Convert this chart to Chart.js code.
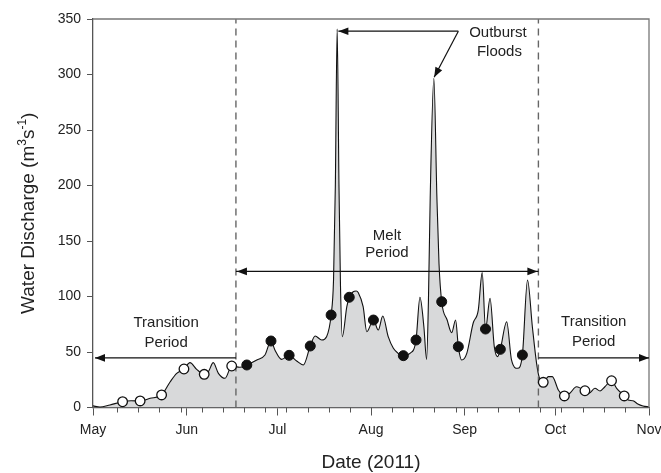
<!DOCTYPE html>
<html><head><meta charset="utf-8">
<script src="https://cdn.jsdelivr.net/npm/chart.js@4/dist/chart.umd.min.js"></script>
<style>html,body{margin:0;padding:0;background:#fff;}canvas{display:block;}</style>
</head><body>
<canvas id="c" width="661" height="473"></canvas>
<script>
// ---- data (days after 1 May 2011) ----
const monthDays = [0, 31, 61, 92, 123, 153, 184];
const monthLabels = ['May', 'Jun', 'Jul', 'Aug', 'Sep', 'Oct', 'Nov'];
const minorTickDays = [8,15,22,29,36,43,50,57,64,71,78,85,92,99,106,113,120,127,134,141,148,155,162,169,176];
const yTicks = [0, 50, 100, 150, 200, 250, 300, 350];

const flowDays = [0,2.3,5.6,9.8,12.6,15.6,18.9,22.7,25.5,27.7,30.1,32.1,34.3,36.8,38.2,39.8,41.5,43.7,45.9,48.6,50.9,54.2,56.9,58.9,60.2,62.4,64.9,67.4,69.6,71.9,73.5,75.7,77.3,78.8,79.6,80.2,80.8,81.4,81.9,82.5,84,84.8,86.1,87.1,87.8,89.4,90.6,92.8,94.4,95.9,97.7,99.4,101,102.7,104.9,106.9,108.2,109.5,110.4,111,111.6,112.8,113.8,114.5,115.4,117.2,118.7,120,120.9,122,123.7,125.8,127.5,128.8,129.9,131.4,132.8,133.9,134.8,136.9,138.5,140.5,142.1,143.8,145.4,146.8,147.6,149,150.7,152,154,156,157.8,160,161.4,162.8,164.1,166.1,167.8,169.4,171.6,173.3,175.8,177.1,178.7,180.3,182,184];
const flowValues = [1.5,0.3,2.3,5.2,6.1,5.9,8.3,11.3,23,30.8,34.7,40.4,34.4,29.9,32.3,40.4,30.8,26.3,37.4,36.2,38.3,42.8,47.3,59.9,51.8,43.4,47,41.9,38.3,55.4,64.4,60.8,63.8,83.3,115,200,341,200,110,63.8,90.8,99.3,104.3,105,103.4,90.8,68.3,78.8,69.8,82.4,63.8,53.3,48.8,46.7,48.8,60.8,99.3,72.8,43.4,95,190,296.6,190,130,95.3,78.8,67.4,78.8,54.8,42.8,48.8,75.9,87.8,121.5,70.7,98.4,54.8,45.8,52.4,77.3,42.8,35.3,47.3,114.9,72.8,39.8,27.8,22.7,27.8,27.8,15.8,10.4,12.8,18.7,17.3,15.1,12.8,17.3,14.9,18.7,24.1,17.3,10.4,6.8,6.1,3.2,1.4,0.5];

const openDays = [9.8,15.6,22.7,30.1,36.8,45.9,149,156,162.8,171.6,175.8];
const openValues = [5.2,5.9,11.3,34.7,29.9,37.4,22.7,10.4,15.1,24.1,10.4];
const filledDays = [50.9,58.9,64.9,71.9,78.8,84.8,92.8,102.7,106.9,115.4,120.9,129.9,134.8,142.1];
const filledValues = [38.3,59.9,47,55.4,83.3,99.3,78.8,46.7,60.8,95.3,54.8,70.7,52.4,47.3];

const periodBounds = [47.3, 147.4];

const FONT = "'Liberation Sans', Arial, Helvetica, sans-serif";
const TXT = '#222';

function pts(xs, ys) { return xs.map((d, i) => ({ x: d, y: ys[i] })); }

function head(ctx, fx, fy, tx, ty) {
  const a = Math.atan2(ty - fy, tx - fx), L = 10, W = 3.8;
  ctx.beginPath();
  ctx.moveTo(tx, ty);
  ctx.lineTo(tx - L * Math.cos(a) + W * Math.sin(a), ty - L * Math.sin(a) - W * Math.cos(a));
  ctx.lineTo(tx - L * Math.cos(a) - W * Math.sin(a), ty - L * Math.sin(a) + W * Math.cos(a));
  ctx.closePath();
  ctx.fill();
}
function line(ctx, x1, y1, x2, y2) {
  ctx.beginPath(); ctx.moveTo(x1, y1); ctx.lineTo(x2, y2); ctx.stroke();
}

const annot = {
  id: 'annot',
  afterDatasetsDraw(chart) {
    const { ctx, chartArea: a } = chart;
    const X = v => chart.scales.x.getPixelForValue(v);
    const Y = v => chart.scales.y.getPixelForValue(v);
    ctx.save();
    // frame top and right
    ctx.strokeStyle = '#777'; ctx.lineWidth = 1.3;
    ctx.beginPath(); ctx.moveTo(a.left, a.top); ctx.lineTo(a.right, a.top); ctx.lineTo(a.right, a.bottom); ctx.stroke();
    // minor ticks
    ctx.strokeStyle = '#555'; ctx.lineWidth = 1;
    minorTickDays.forEach(d => { const px = Math.round(X(d)) + 0.5; line(ctx, px, a.bottom, px, a.bottom + 5); });

    // arrows
    ctx.strokeStyle = '#111'; ctx.fillStyle = '#111'; ctx.lineWidth = 1.2;
    const yT = Y(44.7), yM = Y(122.6);
    const xL = X(periodBounds[0]), xR = X(periodBounds[1]);
    line(ctx, xL, yT, X(0) + 2, yT); head(ctx, xL, yT, X(0) + 2, yT);
    line(ctx, xL, yM, xR, yM); head(ctx, xR, yM, xL + 1, yM); head(ctx, xL, yM, xR - 1, yM);
    line(ctx, xR, yT, X(184), yT); head(ctx, xR, yT, X(184), yT);
    const ox = X(120.9), oy = Y(339);
    line(ctx, ox, oy, X(81.2), oy); head(ctx, ox, oy, X(81.2), oy);
    line(ctx, ox, oy, X(112.9), Y(297.5)); head(ctx, ox, oy, X(112.9), Y(297.5));

    // annotation text
    ctx.fillStyle = TXT; ctx.font = '15px ' + FONT;
    ctx.textAlign = 'center'; ctx.textBaseline = 'middle';
    ctx.fillText('Transition', X(24.2), Y(76.4));
    ctx.fillText('Period', X(24.2), Y(58.4));
    ctx.fillText('Melt', X(97.3), Y(154.8));
    ctx.fillText('Period', X(97.3), Y(138.9));
    ctx.fillText('Outburst', X(134), Y(337.4));
    ctx.fillText('Floods', X(134.5), Y(320.6));
    ctx.fillText('Transition', X(165.7), Y(77.3));
    ctx.fillText('Period', X(165.7), Y(58.7));
    ctx.restore();
  },
  afterDraw(chart) {
    const { ctx, chartArea: a } = chart;
    ctx.save();
    ctx.fillStyle = TXT;
    ctx.textBaseline = 'middle'; ctx.textAlign = 'center';
    ctx.font = '19px ' + FONT;
    ctx.fillText('Date (2011)', (a.left + a.right) / 2, 463);
    // y title with superscripts
    ctx.translate(27, (a.top + a.bottom) / 2);
    ctx.rotate(-Math.PI / 2);
    ctx.textAlign = 'left'; ctx.textBaseline = 'alphabetic';
    const parts = [['Water Discharge (m', 0], ['3', 1], ['s', 0], ['-1', 1], [')', 0]];
    const big = '19px ' + FONT, small = '12px ' + FONT;
    let w = 0;
    parts.forEach(p => { ctx.font = p[1] ? small : big; w += ctx.measureText(p[0]).width; });
    let x = -w / 2;
    parts.forEach(p => {
      ctx.font = p[1] ? small : big;
      ctx.fillText(p[0], x, p[1] ? -1 : 7);
      x += ctx.measureText(p[0]).width;
    });
    ctx.restore();
  }
};

new Chart(document.getElementById('c'), {
  type: 'line',
  data: {
    datasets: [
      { data: pts(filledDays, filledValues), showLine: false, pointRadius: 5, pointBorderWidth: 1,
        pointBackgroundColor: '#111', pointBorderColor: '#111', order: 0 },
      { data: pts(openDays, openValues), showLine: false, pointRadius: 4.8, pointBorderWidth: 1.3,
        pointBackgroundColor: '#fff', pointBorderColor: '#111', order: 0 },
      { data: [{ x: periodBounds[0], y: 0 }, { x: periodBounds[0], y: 350 }], borderColor: '#666', borderWidth: 1.4,
        borderDash: [7, 5], pointRadius: 0, fill: false, order: 1 },
      { data: [{ x: periodBounds[1], y: 0 }, { x: periodBounds[1], y: 350 }], borderColor: '#666', borderWidth: 1.4,
        borderDash: [7, 5], pointRadius: 0, fill: false, order: 1 },
      { data: pts(flowDays, flowValues), borderColor: '#111', borderWidth: 1.1, pointRadius: 0,
        fill: 'origin', backgroundColor: '#d8d9da', cubicInterpolationMode: 'monotone', order: 2 }
    ]
  },
  options: {
    responsive: false, animation: false, devicePixelRatio: 1,
    layout: { padding: { left: 0, right: 12, top: 19, bottom: 0 } },
    plugins: { legend: { display: false }, tooltip: { enabled: false } },
    scales: {
      x: {
        type: 'linear', min: 0, max: 184,
        afterBuildTicks: s => { s.ticks = monthDays.map(v => ({ value: v })); },
        afterFit: s => { s.height = 65.5; s.paddingLeft = 0; s.paddingRight = 0; },
        ticks: { autoSkip: false, maxRotation: 0, padding: 6, color: TXT, font: { family: FONT, size: 14 },
          callback: v => monthLabels[monthDays.indexOf(v)] },
        grid: { drawOnChartArea: false, tickLength: 8, color: '#555', tickWidth: 1 },
        border: { color: '#555', width: 1.3 }
      },
      y: {
        min: 0, max: 350,
        afterBuildTicks: s => { s.ticks = yTicks.map(v => ({ value: v })); },
        afterFit: s => { s.width = 93; s.paddingTop = 0; s.paddingBottom = 0; },
        ticks: { padding: 6, color: TXT, font: { family: FONT, size: 14 } },
        grid: { drawOnChartArea: false, tickLength: 6, color: '#555', tickWidth: 1 },
        border: { color: '#555', width: 1.3 }
      }
    }
  },
  plugins: [annot]
});
</script>
</body></html>
